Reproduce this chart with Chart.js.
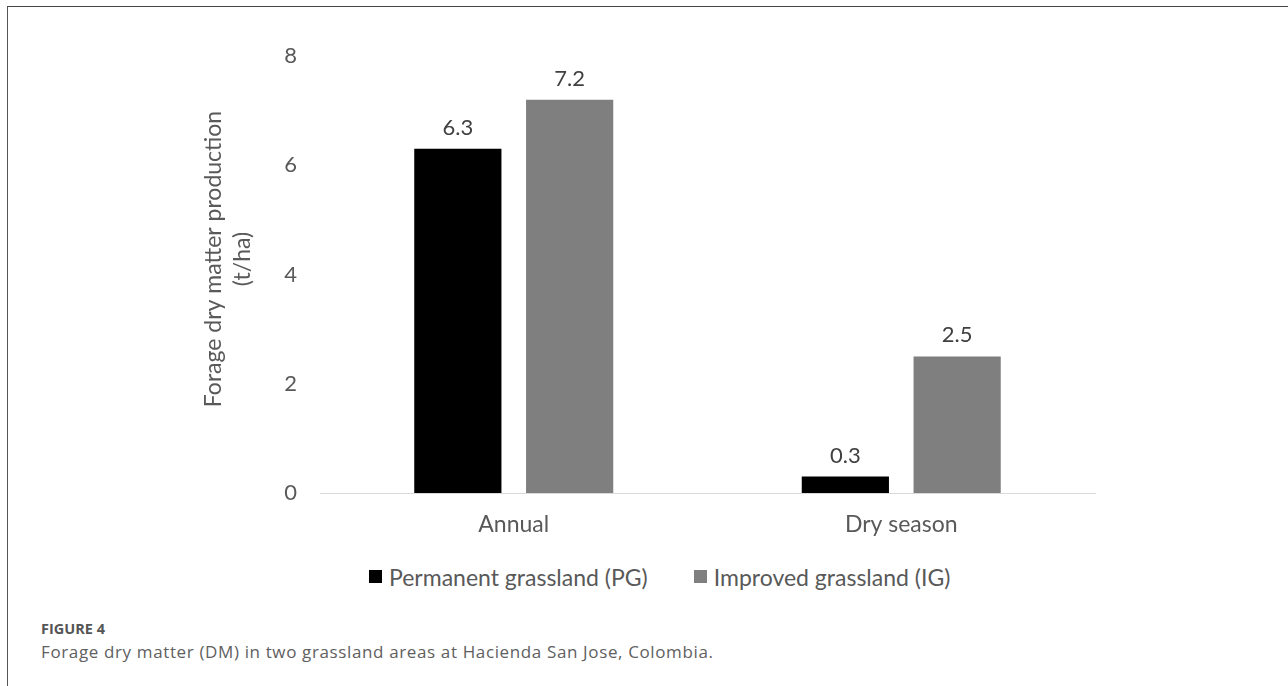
<!DOCTYPE html>
<html>
<head>
<meta charset="utf-8">
<script src="https://cdn.jsdelivr.net/npm/chart.js@4.4.1/dist/chart.umd.min.js"></script>
<style>
  html, body { margin: 0; padding: 0; background: #fff; }
  body { width: 1288px; height: 686px; position: relative; overflow: hidden; }
  .frame { position: absolute; left: 7px; top: 6px; right: 0; bottom: 0;
           border-top: 1px solid #444; border-left: 1px solid #555; }
  #wrap { position: absolute; left: 0; top: 0; width: 1288px; height: 541px; }
  .legend { position: absolute; left: 369px; top: 563px; height: 27px; display: flex; align-items: center;
            font-family: Lato, sans-serif; font-size: 23px; color: #595959; white-space: nowrap; }
  .legend .item { display: flex; align-items: center; margin-right: 46px; }
  .legend .item:last-child { margin-right: 0; }
  .legend .box { width: 13px; height: 13px; margin-right: 7px; }
  .fig-label { position: absolute; left: 41px; top: 622px; line-height: 1; font-family: "Open Sans", sans-serif;
               font-size: 14.5px; font-weight: 700; color: #555; }
  .fig-caption { position: absolute; left: 41px; top: 643px; line-height: 1; font-family: "Open Sans", sans-serif;
                 font-size: 17px; color: #606060; letter-spacing: 0.63px; }
</style>
</head>
<body>
<div class="frame"></div>
<div id="wrap"><canvas id="c" width="1288" height="541"></canvas></div>
<div class="legend" id="legend"></div>
<div class="fig-label">FIGURE 4</div>
<div class="fig-caption">Forage dry matter (DM) in two grassland areas at Hacienda San Jose, Colombia.</div>
<script>
// Periods shown on the x axis
const categories = ["Annual", "Dry season"];
// Forage dry matter production, t/ha
const permanentValues = [6.3, 0.3];
const improvedValues = [7.2, 2.5];
const seriesNames = ["Permanent grassland (PG)", "Improved grassland (IG)"];
const seriesColors = ["#000000", "#7f7f7f"];
const yTicks = [0, 2, 4, 6, 8];
const yTitleLines = ["Forage dry matter production", "(t/ha)"];

const FONT = "Lato";
const TEXT = "#595959";

// Value printed above each bar
const barValues = {
  id: "barValues",
  afterDatasetsDraw(chart) {
    const ctx = chart.ctx;
    ctx.save();
    ctx.font = "22px " + FONT;
    ctx.fillStyle = "#404040";
    ctx.textAlign = "center";
    ctx.textBaseline = "alphabetic";
    chart.data.datasets.forEach((ds, i) => {
      chart.getDatasetMeta(i).data.forEach((el, j) => {
        ctx.fillText(ds.data[j].toFixed(1), el.x, el.y - 14);
      });
    });
    ctx.restore();
  }
};

// Two-line rotated title for the value axis
const yTitle = {
  id: "yTitle",
  afterDraw(chart) {
    const ctx = chart.ctx;
    ctx.save();
    ctx.font = "23px " + FONT;
    ctx.fillStyle = TEXT;
    ctx.textAlign = "center";
    ctx.textBaseline = "middle";
    const xs = [214, 243];
    yTitleLines.forEach((line, k) => {
      ctx.save();
      ctx.translate(xs[k], 259);
      ctx.rotate(-Math.PI / 2);
      ctx.fillText(line, 0, 0);
      ctx.restore();
    });
    ctx.restore();
  }
};

const chart = new Chart(document.getElementById("c"), {
  type: "bar",
  data: {
    labels: categories,
    datasets: [
      { label: seriesNames[0], data: permanentValues, backgroundColor: seriesColors[0],
        categoryPercentage: 0.577, barPercentage: 0.78 },
      { label: seriesNames[1], data: improvedValues, backgroundColor: seriesColors[1],
        categoryPercentage: 0.577, barPercentage: 0.78 }
    ]
  },
  options: {
    responsive: false,
    animation: false,
    devicePixelRatio: 1,
    layout: { padding: { left: 222, right: 193, top: 56, bottom: 0 } },
    plugins: {
      tooltip: { enabled: false },
      legend: { display: false }
    },
    scales: {
      x: {
        afterFit(scale) { scale.height = 48; },
        grid: { display: false },
        border: { display: true, color: "#d9d9d9", width: 1 },
        ticks: { color: TEXT, font: { family: FONT, size: 23 }, padding: 10 }
      },
      y: {
        min: 0, max: 8,
        afterBuildTicks(scale) { scale.ticks = yTicks.map(v => ({ value: v })); },
        afterFit(scale) { scale.width = 98; },
        grid: { display: false, drawTicks: false },
        border: { display: false },
        ticks: { color: TEXT, font: { family: FONT, size: 22 }, padding: 23 }
      }
    }
  },
  plugins: [barValues, yTitle]
});

// Series key below the chart, built from the chart's datasets
const legendEl = document.getElementById("legend");
chart.data.datasets.forEach(ds => {
  const item = document.createElement("div");
  item.className = "item";
  const box = document.createElement("span");
  box.className = "box";
  box.style.background = ds.backgroundColor;
  const label = document.createElement("span");
  label.textContent = ds.label;
  item.appendChild(box);
  item.appendChild(label);
  legendEl.appendChild(item);
});
</script>
</body>
</html>
